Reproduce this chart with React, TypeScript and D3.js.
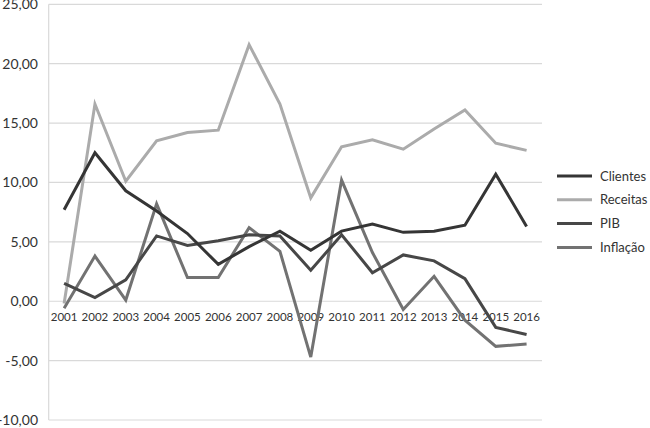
import React from "react";
import * as d3 from "d3";

const years = ["2001","2002","2003","2004","2005","2006","2007","2008","2009","2010","2011","2012","2013","2014","2015","2016"];
const clientes = [7.7, 12.5, 9.3, 7.6, 5.7, 3.1, 4.6, 5.9, 4.3, 5.9, 6.5, 5.8, 5.9, 6.4, 10.7, 6.3];
const receitas = [-0.2, 16.6, 10.1, 13.5, 14.2, 14.4, 21.6, 16.6, 8.7, 13.0, 13.6, 12.8, 14.5, 16.1, 13.3, 12.7];
const pib = [1.5, 0.3, 1.8, 5.5, 4.7, 5.1, 5.6, 5.5, 2.6, 5.6, 2.4, 3.9, 3.4, 1.9, -2.2, -2.8];
const inflacao = [-0.6, 3.8, 0.1, 8.2, 2.0, 2.0, 6.2, 4.2, -4.7, 10.2, 4.1, -0.7, 2.1, -1.6, -3.8, -3.6];
const yTicks = [-10, -5, 0, 5, 10, 15, 20, 25];

const seriesNames = ["Clientes", "Receitas", "PIB", "Inflação"];
const seriesValues = [clientes, receitas, pib, inflacao];
const seriesColors = ["#353535", "#ababab", "#474747", "#727272"];

export default function App() {
  const W = 650, H = 428;
  const x = d3.scaleBand().domain(years).range([48.7, 542]);
  const y = d3.scaleLinear().domain([-10, 25]).range([420, 4.3]);
  const cx = (yr: string) => (x(yr) as number) + x.bandwidth() / 2;
  const line = d3.line<number>().x((_, i) => cx(years[i])).y((v) => y(v));
  const fmt = (v: number) => v.toFixed(2).replace(".", ",");
  const font = "Lato, 'Open Sans', sans-serif";

  // draw order: later on top
  const order = [1, 3, 2, 0];

  return (
    <svg width={W} height={H} style={{ position: "absolute", left: 0, top: 0 }} fontFamily={font}>
      <rect width={W} height={H} fill="#fff" />
      {yTicks.map((t) => (
        <g key={t}>
          <line x1={48.7} x2={542} y1={y(t)} y2={y(t)} stroke="#d9d9d9" strokeWidth={1.2} />
          <text x={38} y={y(t)} dy="0.35em" textAnchor="end" fontSize={14} fill="#333">{fmt(t)}</text>
        </g>
      ))}
      <line x1={48.7} x2={48.7} y1={y(25)} y2={y(-10)} stroke="#d9d9d9" strokeWidth={1.2} />
      {years.map((yr) => (
        <text key={yr} x={cx(yr)} y={y(0) + 20} textAnchor="middle" fontSize={11.5} fill="#333">{yr}</text>
      ))}
      {order.map((i) => (
        <path key={seriesNames[i]} d={line(seriesValues[i]) || ""} fill="none" stroke={seriesColors[i]} strokeWidth={3} strokeLinejoin="miter" />
      ))}
      {seriesNames.map((n, i) => (
        <g key={n} transform={`translate(557, ${176 + i * 23.8})`}>
          <line x1={0} x2={35} y1={0} y2={0} stroke={seriesColors[i]} strokeWidth={3} />
          <text x={43} y={0} dy="0.35em" fontSize={13} fill="#333">{n}</text>
        </g>
      ))}
    </svg>
  );
}
